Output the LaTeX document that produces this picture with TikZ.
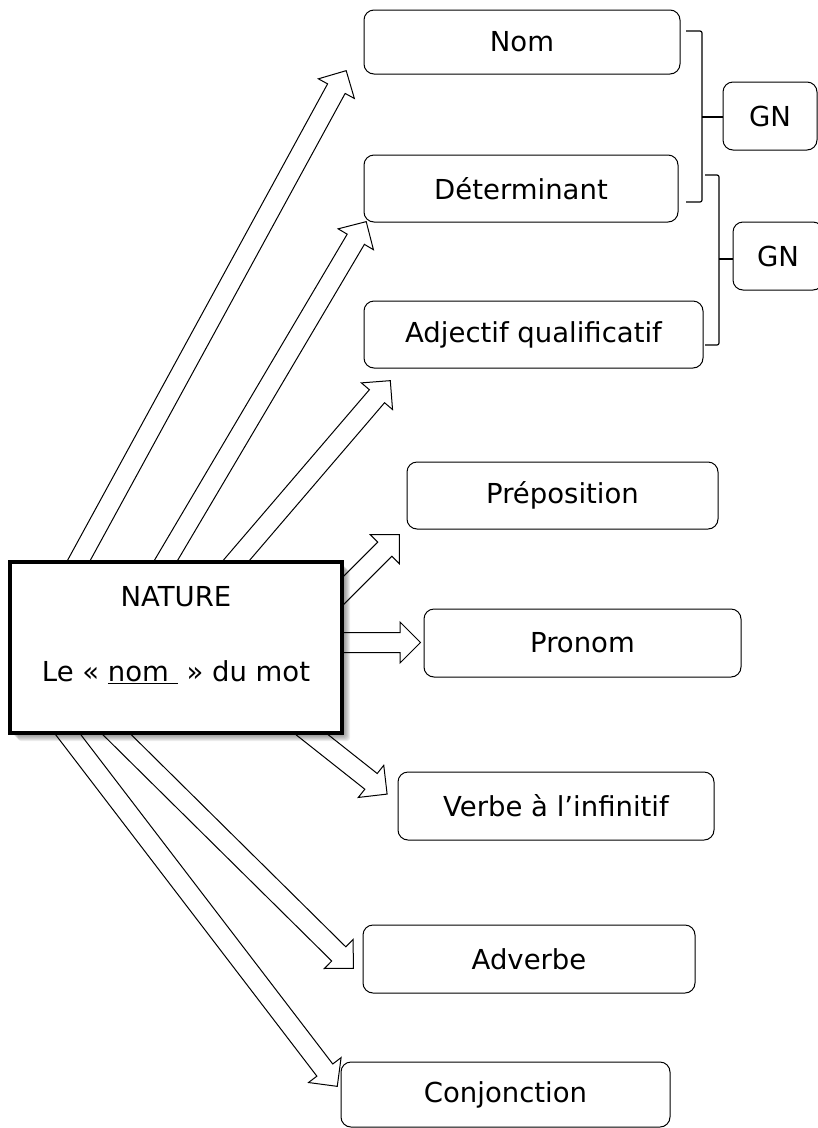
\documentclass[tikz,border=0pt]{standalone}
\usepackage{fontspec}
\setmainfont{DejaVu Sans}
\usetikzlibrary{shapes.arrows,shadows,calc}
\tikzset{
  wordbox/.style={draw=black, line width=1pt, rounded corners=10pt, fill=white, inner sep=0pt},
  barrow/.style={single arrow, draw=black, fill=white, line width=1pt,
    single arrow head extend=10.5pt, minimum width=40pt, inner xsep=0pt, inner ysep=9.5pt,
    single arrow tip angle=90},
  bracket/.style={draw=black, line width=1.2pt, rounded corners=2pt},
  mainbox/.style={draw=black, line width=4pt, fill=white},
  softshadow/.style={fill=black, opacity=0.07, rounded corners=3pt},
}
\newcommand\blockarrow[2]{%
  \path let \p1=(#1), \p2=(#2),
    \n1={atan2(\y2-\y1,\x2-\x1)}, \n2={veclen(\x2-\x1,\y2-\y1)} in
    node[barrow, minimum height=\n2, rotate=\n1, anchor=tail] at (\p1) {};}
\begin{document}
\begin{tikzpicture}[x=1pt,y=-1pt, font=\fontsize{27.5}{33}\selectfont]
\useasboundingbox (0,0) rectangle (818,1128);
% target boxes
\node[wordbox, minimum width=316pt, minimum height=64pt] (nom) at (522,42) {Nom};
\node[wordbox, minimum width=314pt, minimum height=67pt] (det) at (521,188.5) {Déterminant};
\node[wordbox, minimum width=339pt, minimum height=67pt] (adj) at (533.5,334.5) {Adjectif qualificatif};
\node[wordbox, minimum width=311pt, minimum height=67pt] (prep) at (562.5,495.5) {Préposition};
\node[wordbox, minimum width=317pt, minimum height=68pt] (pron) at (582.5,643) {Pronom};
\node[wordbox, minimum width=316pt, minimum height=68pt] (verbe) at (556,806) {Verbe à l’infinitif};
\node[wordbox, minimum width=332pt, minimum height=68pt] (adv) at (529,959) {Adverbe};
\node[wordbox, minimum width=329pt, minimum height=65pt] (conj) at (505.5,1094.5) {Conjonction};
\node[wordbox, minimum width=94pt, minimum height=68pt] (gn1) at (770,116) {GN};
\node[wordbox, minimum width=90pt, minimum height=68pt] (gn2) at (778,256) {GN};
% brackets
\coordinate (b1top) at (686,31);
\coordinate (b1bot) at (686,202);
\coordinate (b1mid) at (702,117);
\draw[bracket] (b1top) -- ++(16,0) |- (b1bot);
\draw[bracket] (b1mid) -- (b1mid -| gn1.west);
\coordinate (b2top) at (705,175);
\coordinate (b2bot) at (705,345);
\coordinate (b2mid) at (719,259);
\draw[bracket] (b2top) -- ++(14,0) |- (b2bot);
\draw[bracket] (b2mid) -- (b2mid -| gn2.west);
% arrow ends
\coordinate (sNom) at (70.8,575.2);   \coordinate (tNom) at (346,71);
\coordinate (sDet) at (157.4,574.9);  \coordinate (tDet) at (366,222);
\coordinate (sAdj) at (225.2,573.4);  \coordinate (tAdj) at (390,381);
\coordinate (sPrep) at (330,604);     \coordinate (tPrep) at (399,535);
\coordinate (sPron) at (330,642.5);   \coordinate (tPron) at (420,642.5);
\coordinate (sVerbe) at (300.7,725.7); \coordinate (tVerbe) at (387,794);
\coordinate (sAdv) at (108.8,726.5);  \coordinate (tAdv) at (353,968);
\coordinate (sConj) at (60.9,725.1);  \coordinate (tConj) at (337,1086);
\blockarrow{sNom}{tNom}
\blockarrow{sDet}{tDet}
\blockarrow{sAdj}{tAdj}
\blockarrow{sPrep}{tPrep}
\blockarrow{sPron}{tPron}
\blockarrow{sVerbe}{tVerbe}
\blockarrow{sAdv}{tAdv}
\blockarrow{sConj}{tConj}
% soft shadow of the main box
\foreach \d in {1,...,8}
  \fill[softshadow] (10+\d,562+\d) rectangle (342+\d,733+\d);
% main box
\node[mainbox, minimum width=332pt, minimum height=171pt] (nature) at (176,647.5) {};
\node (title) at (176,597) {NATURE};
\node (sub) at (176,672) {Le « \underline{nom\ } » du mot};
\end{tikzpicture}
\end{document}
